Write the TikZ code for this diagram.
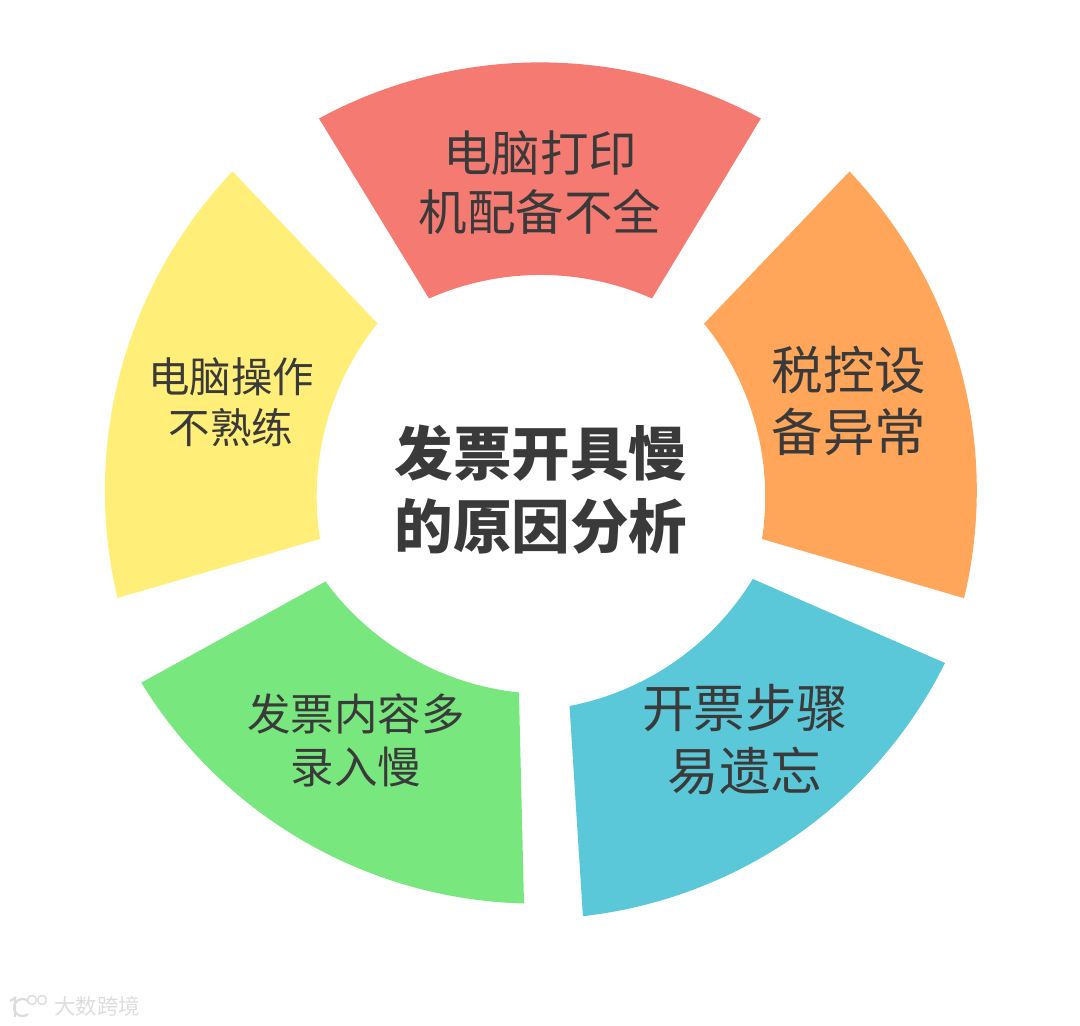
\documentclass[tikz,border=0pt]{standalone}
\usepackage{fontspec}
\newfontfamily\cjk{Noto Sans CJK SC}
\definecolor{cred}{HTML}{F57A72}
\definecolor{corange}{HTML}{FFA65B}
\definecolor{cblue}{HTML}{5AC8D8}
\definecolor{cgreen}{HTML}{78E77E}
\definecolor{cyellow}{HTML}{FFEF78}
\definecolor{ink}{HTML}{3A3A3A}
\definecolor{wm}{HTML}{DDDDDD}
\tikzset{
  x=1pt,y=1pt,
  label/.style={text=ink,align=center,inner sep=0pt},
  wmline/.style={draw=wm,line width=2.2pt}
}
\newcommand{\labelfont}[2]{\cjk\fontsize{#1}{#2}\selectfont}
\begin{document}
\begin{tikzpicture}
\useasboundingbox (0,0) rectangle (1080,1026);
\foreach \c/\ax/\ay/\bx/\by/\cx/\cy/\dx/\dy in {
  cred/319/118.5/760.5/118.5/652/298.5/429/298.5,
  corange/849.5/171.5/964/598/762/539/704/323.5,
  cblue/945/663/582.5/916.5/569.5/706/752/579.5,
  cgreen/524/903.5/141/682.5/325.5/581.5/519/692.5,
  cyellow/117.5/598/232.5/171.5/377.5/323.5/320/539}{
  \pgfmathsetmacro{\pa}{atan2(\ay-\by,\bx-\ax)}
  \pgfmathsetmacro{\pc}{atan2(\cy-\dy,\dx-\cx)}
  \fill[\c] (\ax,1026-\ay)
    arc[start angle=\pa+28.5+90,delta angle=-57,radius=463]
    -- (\cx,1026-\cy)
    arc[start angle=\pc-23.83-90,delta angle=47.66,radius=276]
    -- cycle;
}
\node[label,font=\labelfont{48.5}{59}] (red) at (540,1026-182.5) {电脑打印\\机配备不全};
\node[label,font=\labelfont{51.5}{62}] (orange) at (849,1026-401) {税控设\\备异常};
\node[label,font=\labelfont{51.5}{63}] (blue) at (745,1026-740) {开票步骤\\易遗忘};
\node[label,font=\labelfont{43.5}{53}] (green) at (356,1026-740) {发票内容多\\录入慢};
\node[label,font=\labelfont{41.5}{51}] (yellow) at (231,1026-402.5) {电脑操作\\不熟练};
\node[label,font=\labelfont{58.5}{73}\bfseries] (center) at (541,1026-490) {发票开具慢\\的原因分析};
% watermark
\draw[wmline] (10,1026-1001) -- (15,1026-998) -- (15,1026-1017);
\draw[wmline] (28,1026-1001) arc[start angle=50,end angle=310,radius=8.5];
\draw[wmline,line width=1.5pt] (32,1026-1000) circle[radius=4.5];
\draw[wmline,line width=1.5pt] (42,1026-1000) circle[radius=4.5];
\node[text=wm,inner sep=0pt,font=\labelfont{21.5}{26}] (mark) at (97,1026-1006) {大数跨境};
\end{tikzpicture}
\end{document}
